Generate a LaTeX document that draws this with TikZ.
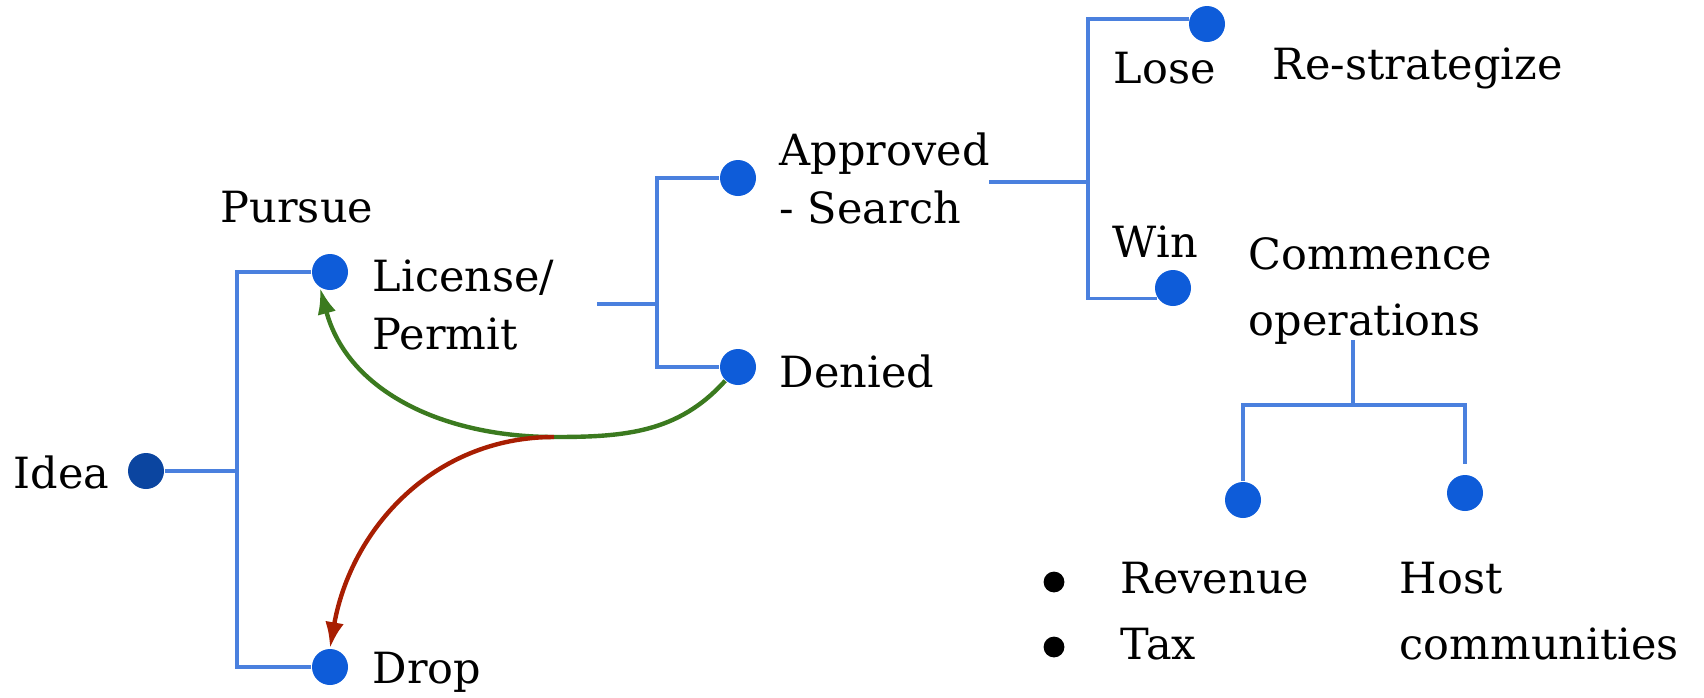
\documentclass[tikz,border=0pt]{standalone}
\usepackage{fontspec}
\setmainfont{DejaVu Serif}
\usetikzlibrary{arrows.meta}
\definecolor{lineblue}{HTML}{4A80DE}
\definecolor{dotblue}{HTML}{0E5CD9}
\definecolor{ideablue}{HTML}{0B45A0}
\definecolor{yesgreen}{HTML}{3B7A1F}
\definecolor{nored}{HTML}{A81E02}
\tikzset{
  dot/.style={circle, fill=dotblue, inner sep=0pt, minimum size=9pt},
  branch/.style={draw=lineblue, line width=0.9pt},
  lbl/.style={anchor=base west, inner sep=0pt, align=left,
    font=\fontsize{10.75pt}{14.5pt}\selectfont},
  lst/.style={lbl, font=\fontsize{10.75pt}{16.5pt}\selectfont},
  bul/.style={circle, fill=black, inner sep=0pt, minimum size=5.2pt}
}
\begin{document}
\begin{tikzpicture}[x=0.25pt, y=-0.25pt]
\useasboundingbox (0,0) rectangle (1704,697);
\node[dot, fill=ideablue] (idea) at (146,471) {};
\node[dot] (license) at (330,272) {};
\node[dot] (drop) at (330,667) {};
\node[dot] (approved) at (738,178) {};
\node[dot] (denied) at (738,367) {};
\node[dot] (lose) at (1207,24) {};
\node[dot] (win) at (1173,288) {};
\node[dot] (revdot) at (1243,500) {};
\node[dot] (hostdot) at (1465,493) {};
\node[lbl] (ideatxt) at (13,488) {Idea};
\node[lbl] (pursue) at (220,222) {Pursue};
\node[lbl] (licensetxt) at (372,349) {License/\\Permit};
\node[lbl] (droptxt) at (372,683) {Drop};
\node[lbl] (approvedtxt) at (779,223) {Approved\\- Search};
\node[lbl] (deniedtxt) at (779,387) {Denied};
\node[lbl] (losetxt) at (1113,83) {Lose};
\node[lbl] (restrat) at (1272,79) {Re-strategize};
\node[lbl] (wintxt) at (1112,257) {Win};
\node[lst] (commence) at (1248,335) {Commence\\operations};
\node[bul] (bul1) at (1054,582) {};
\node[bul] (bul2) at (1054,647) {};
\node[lst] (revenue) at (1120,659) {Revenue\\Tax};
\node[lst] (host) at (1399,659) {Host\\communities};
\coordinate (j1) at (237,471);
\coordinate (s2) at (597,304);
\coordinate (j2) at (657,304);
\coordinate (s3) at (989,182);
\coordinate (j3) at (1088,182);
\coordinate (s4) at (1353,340);
\coordinate (j4) at (1353,405);
\coordinate (gm) at (554,437);
\draw[branch] (idea) -- (j1);
\draw[branch] (license.west) -| (j1) |- (drop.west);
\draw[branch] (s2) -- (j2);
\draw[branch] (approved.west) -| (j2) |- (denied.west);
\draw[branch] (s3) -- (j3);
\draw[branch] (lose.165) -| (j3) |- (win.214);
\draw[branch] (s4) -- (j4);
\draw[branch] (revdot.north) |- (j4) -| ([yshift=2.5pt]hostdot.north);
\draw[yesgreen, line width=1.1pt, -{Latex[length=6.5pt, width=4.7pt]}]
  (denied.227) to[out=228, in=0] (gm) to[out=180, in=-75] (license.238);
\draw[nored, line width=1.1pt, -{Latex[length=6.5pt, width=4.7pt]}]
  (gm) to[out=180, in=80] (drop.north);
\end{tikzpicture}
\end{document}
